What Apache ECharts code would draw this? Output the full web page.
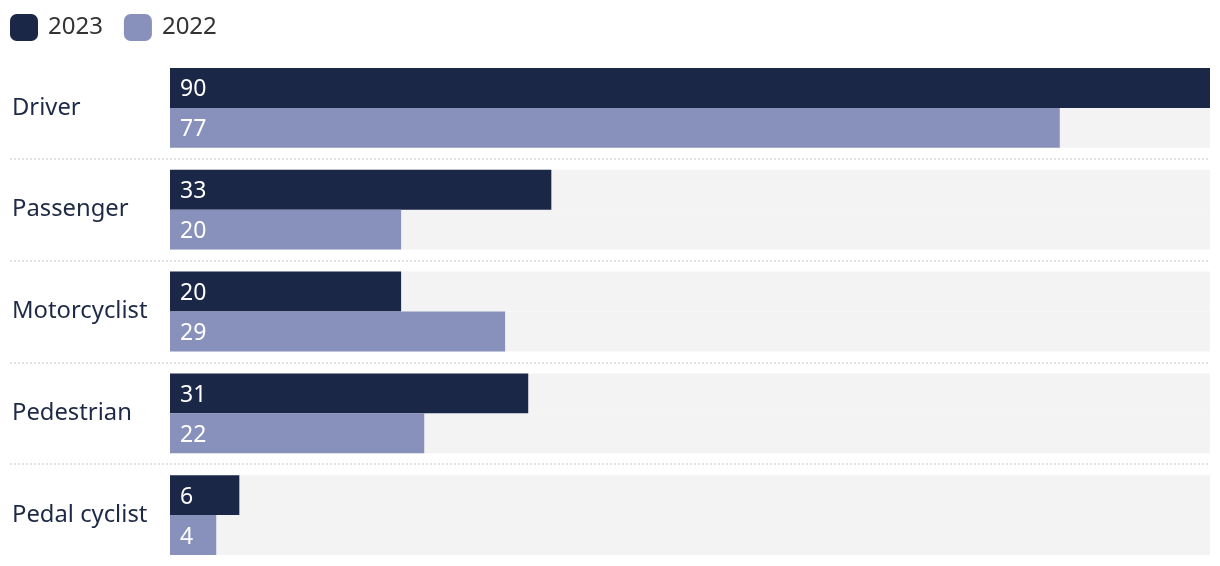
<!DOCTYPE html>
<html><head><meta charset="utf-8">
<script src="https://cdn.jsdelivr.net/npm/echarts@6/dist/echarts.min.js"></script>
<style>html,body{margin:0;padding:0;background:#fff}#c{width:1220px;height:566px}</style>
</head><body><div id="c"></div>
<script>
const categories = ['Driver', 'Passenger', 'Motorcyclist', 'Pedestrian', 'Pedal cyclist'];
const values2023 = [90, 33, 20, 31, 6];
const values2022 = [77, 20, 29, 22, 4];
const seriesNames = ['2023', '2022'];
const axisMax = 90;

const font = 'Noto Sans';
const chart = echarts.init(document.getElementById('c'), null, {renderer: 'canvas'});
const barLabel = {show: true, position: 'insideLeft', distance: 10, offset: [0, 2], color: '#fff', fontSize: 23, fontFamily: font};
chart.setOption({
  animation: false,
  textStyle: {fontFamily: font},
  legend: {
    left: 10, top: 14, padding: 0, itemWidth: 28, itemHeight: 27, itemGap: 21, icon: 'roundRect',
    data: seriesNames,
    textStyle: {fontSize: 24, color: '#333', fontFamily: font, padding: [2, 0, 0, 5]}
  },
  grid: [
    {left: 170, right: 10, top: 57, height: 510, containLabel: false},
    {left: 10, right: 10, top: 57, height: 510, containLabel: false}
  ],
  xAxis: [
    {type: 'value', gridIndex: 0, min: 0, max: axisMax, show: false},
    {type: 'value', gridIndex: 1, min: 0, max: 1, show: false}
  ],
  yAxis: [
    {type: 'category', gridIndex: 0, data: categories, inverse: true,
     axisLine: {show: false}, axisTick: {show: false}, splitLine: {show: false},
     axisLabel: {align: 'left', margin: 158, fontSize: 23.8, color: '#1e2a45', fontFamily: font, padding: [2, 0, 0, 0]}},
    {type: 'value', gridIndex: 1, min: 0, max: 5, interval: 1, inverse: true,
     axisLine: {show: false}, axisTick: {show: false}, axisLabel: {show: false},
     splitLine: {show: true, showMinLine: false, showMaxLine: false,
       lineStyle: {color: '#d9d9d9', type: [2, 2], width: 1.5}}}
  ],
  series: [
    {name: seriesNames[0], type: 'bar', xAxisIndex: 0, yAxisIndex: 0, data: values2023,
     barGap: '0%', barCategoryGap: '21.57%',
     itemStyle: {color: '#1b2747'},
     showBackground: true, backgroundStyle: {color: '#f3f3f3'},
     label: barLabel},
    {name: seriesNames[1], type: 'bar', xAxisIndex: 0, yAxisIndex: 0, data: values2022,
     barGap: '0%', barCategoryGap: '21.57%',
     itemStyle: {color: '#8891bb'},
     showBackground: true, backgroundStyle: {color: '#f3f3f3'},
     label: barLabel}
  ]
});
</script></body></html>
